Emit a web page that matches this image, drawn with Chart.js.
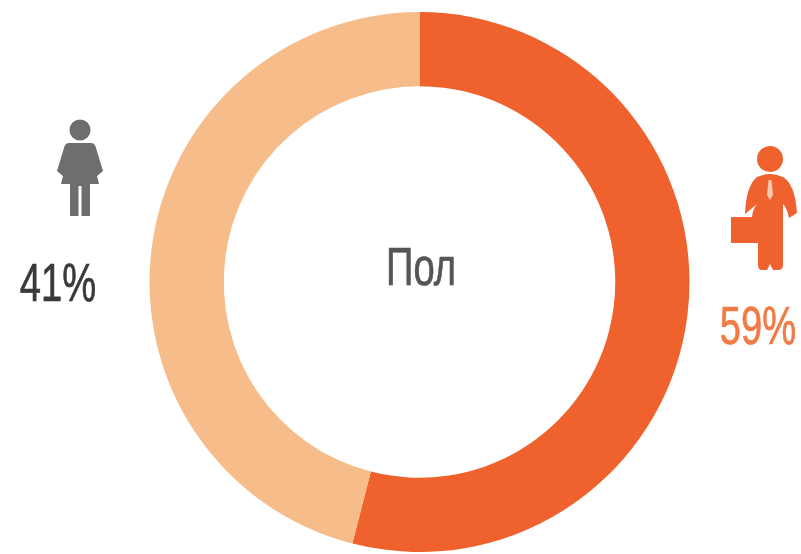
<!DOCTYPE html>
<html lang="ru">
<head>
  <meta charset="UTF-8">
  <title>Пол</title>
  <style>
    html, body { margin: 0; padding: 0; background: white; }
    .wrap { position: relative; width: 801px; height: 554px; overflow: hidden; filter: blur(0.6px); }
    canvas { position: absolute; left: 0; top: 0; }
    svg { position: absolute; left: 0; top: 0; }
    .label {
      position: absolute;
      font-family: 'Liberation Sans', sans-serif;
      font-size: 53px;
      line-height: 54px;
      white-space: nowrap;
      text-align: center;
      -webkit-text-stroke: 0.7px currentColor;
      transform: translateX(-50%) scaleX(0.72);
    }
  </style>
  <script src="https://cdn.jsdelivr.net/npm/chart.js"></script>
</head>
<body>
  <div class="wrap">
    <canvas id="genderChart" width="801" height="554"></canvas>
    <svg width="801" height="554" viewBox="0 0 801 554">
      <!-- woman -->
      <g fill="#6e6e6e">
        <circle cx="80" cy="130" r="10.5"/>
        <path d="M69 143 H91 Q95 143 96 148 L103 171 L97 176 L99 184 H90 V216 H81.5 V186 H78.5 V216 H70 V184 H61 L63 176 L57 171 L64 148 Q65 143 69 143 Z"/>
      </g>
      <!-- man -->
      <g fill="#f0622d">
        <circle cx="770" cy="159" r="13"/>
        <path d="M757 177 Q764 174 770 174 Q776 174 783 177 Q795 184 797 213 L789 218 Q787 208 783 204 V265 Q783 270 778 270 H773 L770 264 L767 270 H762 Q758 270 758 265 V217 H752 Q753 208 757 204 L745 214 Q746 186 757 177 Z"/>
        <rect x="731" y="217" width="36" height="26"/>
      </g>
      <path d="M768.5 180 H771.5 L773 195 L770 200 L767 195 Z" fill="#f8c9b0"/>
    </svg>
    <div class="label" id="centerLabel" style="left:421px; top:240px; color:#555555;"></div>
    <div class="label" id="womenLabel" style="left:58px; top:256px; color:#3a3a3a;"></div>
    <div class="label" id="menLabel" style="left:758px; top:299px; color:#f27a45;"></div>
  </div>

  <script>
    const centerTitle = 'Пол';
    const categories = ['Мужчины', 'Женщины'];
    // printed percentages
    const percentLabels = ['59%', '41%'];
    // ring as drawn in the picture: the boundary sits near 54%, not 59%
    const sliceValues = [54, 46];
    const sliceColors = ['#f0622d', '#f6bc8a'];

    document.getElementById('centerLabel').textContent = centerTitle;
    document.getElementById('menLabel').textContent = percentLabels[0];
    document.getElementById('womenLabel').textContent = percentLabels[1];

    const ctx = document.getElementById('genderChart').getContext('2d');
    new Chart(ctx, {
      type: 'doughnut',
      data: {
        labels: categories,
        datasets: [{
          data: sliceValues,
          backgroundColor: sliceColors,
          borderWidth: 0
        }]
      },
      options: {
        responsive: false,
        animation: false,
        cutout: '72.5%',
        layout: { padding: { left: 149, right: 111, top: 12, bottom: 2 } },
        plugins: {
          legend: { display: false },
          tooltip: { enabled: false }
        }
      }
    });
  </script>
</body>
</html>
